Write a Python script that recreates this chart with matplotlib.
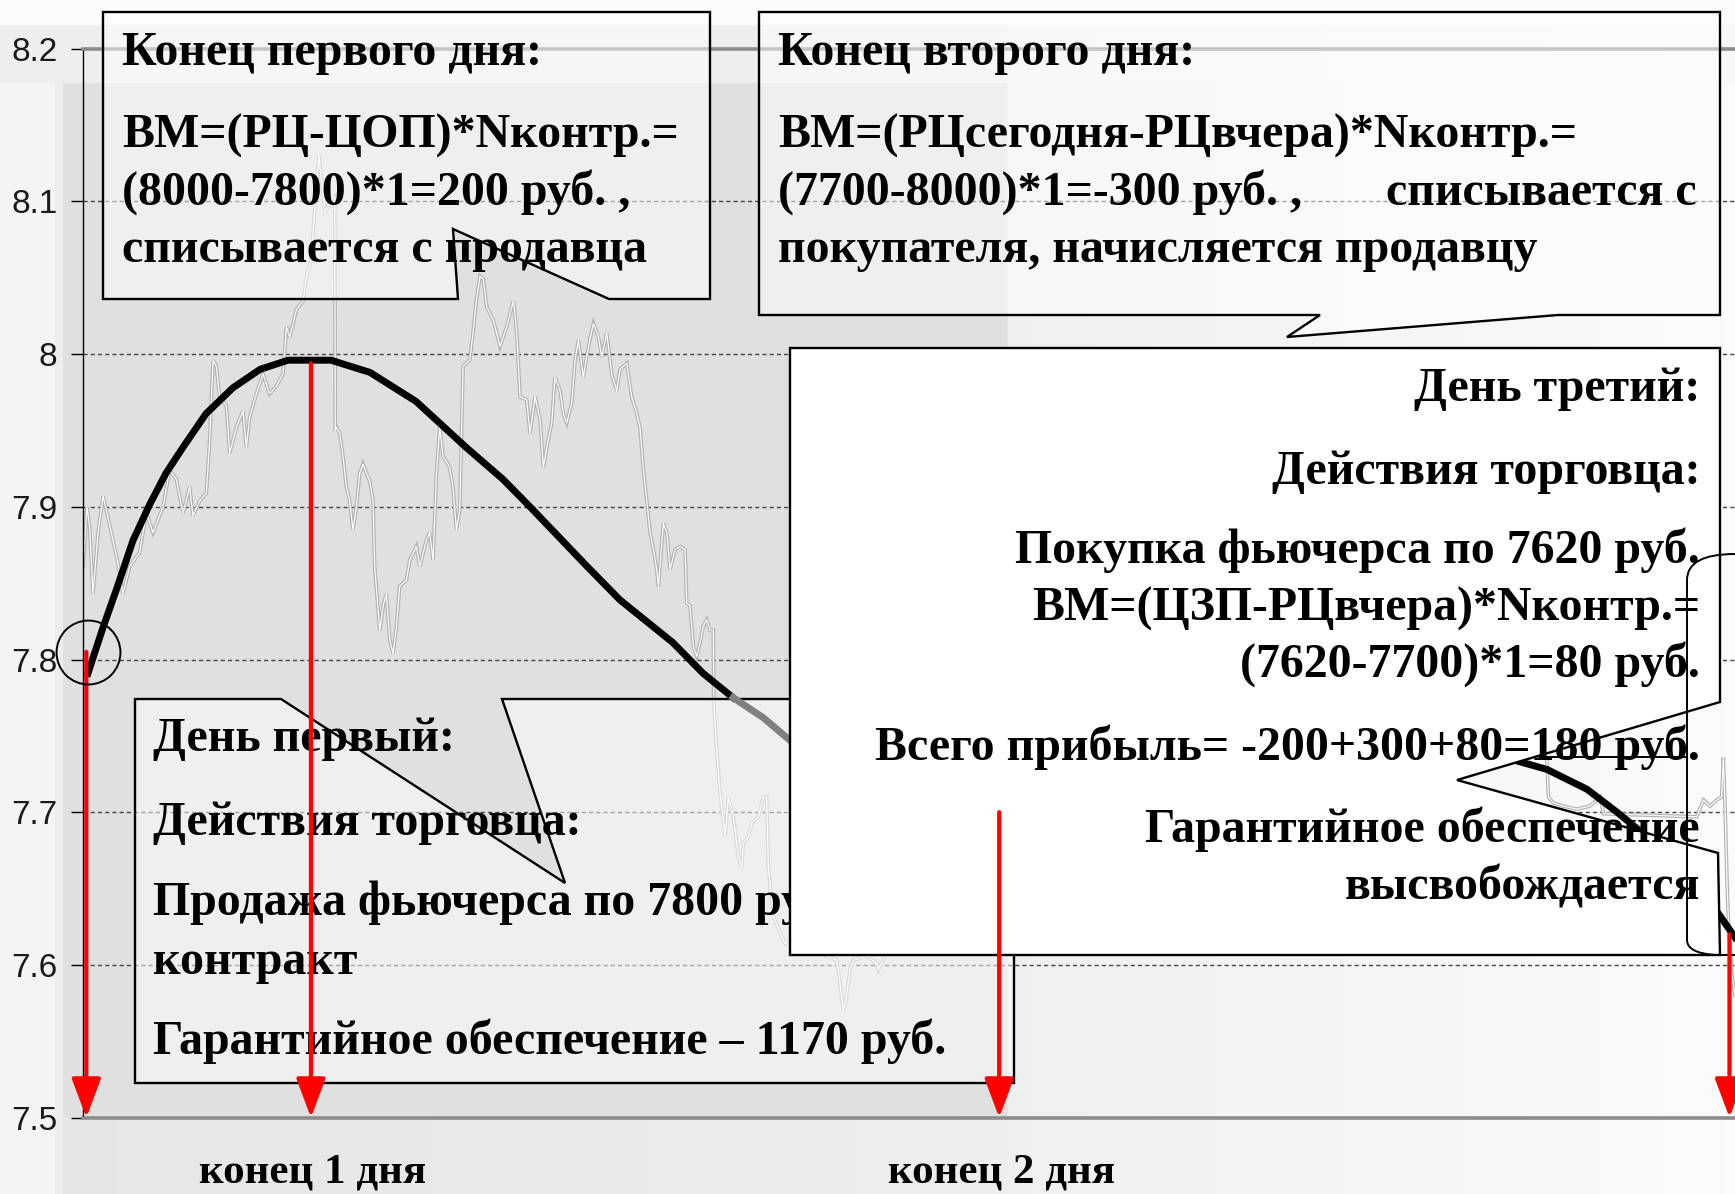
import numpy as np
import matplotlib
matplotlib.use("Agg")
import matplotlib.pyplot as plt
from matplotlib.patches import Polygon, FancyArrowPatch, PathPatch
from matplotlib.path import Path

# ---------------- data ----------------
ytick_vals = [8.2, 8.1, 8.0, 7.9, 7.8, 7.7, 7.6, 7.5]
ytick_labels = ["8.2", "8.1", "8", "7.9", "7.8", "7.7", "7.6", "7.5"]
grid_vals = [8.1, 8.0, 7.9, 7.8, 7.7, 7.6]

# intraday price (faint background series); NaN = hidden gap
price_t = [-0.30, 0.06, 0.30, 0.60, 1.06, 1.51, 1.96, 2.41, 2.86, 3.32, 3.92, 4.82, 5.43, 6.03,
           6.93, 7.53, 8.14, 8.74, 9.34, 9.64, 10.25, 10.85, 11.15, 11.45, 11.75, 12.05, 12.66,
           12.96, 13.56, 14.16, 14.46, 14.77, 15.37, 15.97, 16.57, 17.17, 17.78, 18.08, 18.38,
           18.98, 19.59, 19.90, 20.30, 20.60, 20.90, 21.03, 21.30, 21.60, 22.00, 22.45, 22.50,
           22.60, 22.90, 23.20, 23.50, 23.80, 24.10, 24.41, 24.71, 25.01, 25.31, 25.61, 25.91,
           26.06, 26.52, 26.82, 27.12, 27.42, 27.72, 28.02, 28.32, 28.93, 29.23, 29.83, 30.13,
           30.73, 31.03, 31.34, 31.64, 31.94, 32.24, 32.84, 33.14, 33.45, 33.75, 34.05, 34.65,
           34.95, 35.25, 35.58, 35.88, 36.19, 36.79, 37.39, 37.99, 38.60, 38.90, 39.20, 39.80,
           40.10, 40.55, 41.01, 41.31, 41.61, 42.06, 42.36, 42.81, 43.12, 43.42, 43.87, 44.17,
           44.47, 44.92, 45.38, 45.83, 46.28, 46.58, 47.03, 47.48, 47.94, 48.24, 48.84, 49.29,
           49.74, 50.04, 50.35, 50.65, 50.95, 51.25, 51.55, 51.70, 52.15, 52.46, 52.76, 53.21,
           53.66, 54.11, 54.26, 54.56, 54.87, 55.17, 55.47, 55.77, 56.07, 56.37, 56.67, 56.70,
           56.97, 57.28, 57.73, 58.03, 58.48, 58.93, 59.23, 59.38, 59.84, 60.14, 60.74, 61.19,
           61.49, 61.64, 62.10, 62.70, 63.15, 63.60, 67.82, 68.12, 68.42, 68.73, 69.03, 69.33,
           70.50, 71.44, 71.59, 72.50, np.nan,
           131.99, 132.14, 132.59, 133.49, 134.70, 135.90, 136.81, 137.11, 145.54, 146.15,
           146.75, 147.35, 147.80, 147.95, 148.10, 148.26, 148.41, 148.71, 149.00]
price_v = [7.861, 7.900, 7.887, 7.843, 7.883, 7.907, 7.893, 7.878, 7.863, 7.843, 7.861, 7.870,
           7.896, 7.883, 7.900, 7.924, 7.918, 7.896, 7.913, 7.894, 7.904, 7.909, 7.944, 7.996,
           7.992, 7.972, 7.966, 7.935, 7.952, 7.963, 7.939, 7.959, 7.974, 7.987, 7.974, 7.979,
           7.987, 8.018, 8.011, 8.029, 8.035, 8.050, 8.062, 8.090, 8.120, 8.130, 8.110, 8.092,
           8.100, 8.103, 7.950, 7.952, 7.948, 7.933, 7.913, 7.904, 7.885, 7.900, 7.922, 7.928,
           7.922, 7.917, 7.904, 7.861, 7.819, 7.835, 7.843, 7.813, 7.804, 7.821, 7.848, 7.852,
           7.865, 7.874, 7.861, 7.878, 7.883, 7.865, 7.922, 7.952, 7.933, 7.926, 7.913, 7.885,
           7.898, 7.992, 7.996, 8.014, 8.035, 8.051, 8.049, 8.031, 8.022, 8.005, 8.018, 8.035,
           8.014, 7.972, 7.970, 7.948, 7.972, 7.957, 7.926, 7.939, 7.955, 7.985, 7.976, 7.961,
           7.955, 7.968, 7.996, 8.009, 7.985, 8.005, 8.020, 8.011, 7.998, 8.014, 7.987, 7.976,
           7.990, 7.994, 7.972, 7.961, 7.952, 7.924, 7.904, 7.883, 7.872, 7.859, 7.848, 7.889,
           7.883, 7.859, 7.872, 7.874, 7.872, 7.837, 7.835, 7.808, 7.802, 7.811, 7.822, 7.826,
           7.819, 7.819, 7.773, 7.741, 7.712, 7.684, 7.710, 7.697, 7.671, 7.664, 7.680, 7.684,
           7.693, 7.697, 7.710, 7.710, 7.664, 7.632, 7.621, 7.614, 7.616, 7.603, 7.588, 7.570,
           7.581, 7.597, 7.603, 7.606, 7.601, 7.597, 7.610, np.nan,
           7.734, 7.710, 7.706, 7.704, 7.702, 7.704, 7.710, 7.699, 7.697, 7.708, 7.704, 7.708,
           7.710, 7.736, 7.704, 7.660, 7.627, 7.594, 7.580]

# settlement-price path (thick line)
settle_t = [0.15, 1.51, 2.68, 4.22, 5.76, 7.20, 8.74, 10.82, 13.26, 15.70, 18.23, 22.11, 25.64,
            29.80, 34.31, 37.66, 40.10, 45.25, 48.23, 53.02, 55.73, 58.45]
settle_v = [7.791, 7.821, 7.845, 7.878, 7.902, 7.922, 7.939, 7.961, 7.978, 7.990, 7.996, 7.996,
            7.988, 7.969, 7.939, 7.918, 7.900, 7.861, 7.839, 7.811, 7.791, 7.775]
settle_gray_t = [58.45, 61.16, 63.60, 66.0]
settle_gray_v = [7.775, 7.762, 7.747, 7.740]
settle_day3_t = [129.57, 132.01, 135.63, 138.34, 140.69, 147.46, 149.00]
settle_day3_v = [7.733, 7.728, 7.715, 7.700, 7.686, 7.634, 7.618]

# day boundaries (red arrows) and entry point
arrow_t = [0.0, 20.3, 82.5, 148.5]
arrow_top = [7.805, 7.994, 7.700, 7.620]
entry_t = [0.15]
entry_v = [7.805]

# texts
box1_lines = ["Конец первого дня:", "ВМ=(РЦ-ЦОП)*Nконтр.=", "(8000-7800)*1=200 руб. ,",
              "списывается с продавца"]
box2_lines = ["Конец второго дня:", "ВМ=(РЦсегодня-РЦвчера)*Nконтр.=",
              "(7700-8000)*1=-300 руб. ,", "покупателя, начисляется продавцу"]
box2_right = "списывается с"
box3_lines = ["День первый:", "Действия торговца:", "Продажа фьючерса по 7800 руб. за 1",
              "контракт", "Гарантийное обеспечение – 1170 руб."]
box4_lines = ["День третий:", "Действия торговца:", "Покупка фьючерса по 7620 руб.",
              "ВМ=(ЦЗП-РЦвчера)*Nконтр.=", "(7620-7700)*1=80 руб.",
              "Всего прибыль= -200+300+80=180 руб.", "Гарантийное обеспечение",
              "высвобождается"]
bottom_labels = ["конец 1 дня", "конец 2 дня"]

# ---------------- figure ----------------
W, H = 1735, 1194
fig = plt.figure(figsize=(W / 100, H / 100), dpi=100)

def fp(x, y):
    return (x / W, 1 - y / H)

# background
bg = np.full((H, W), 0.965)
bg[:25, :] = 0.985
bg[25:83, :1007] = 0.935
bg[25:83, 1007:] = np.linspace(0.95, 0.975, W - 1007)[None, :]
bg[83:, :55] = 0.96
bg[83:, 55:63] = 0.93
bg[83:, 63:1007] = 0.88
bg[1117:, 63:1007] = np.linspace(0.90, 0.935, 1007 - 63)[None, :]
bg[83:, 1007:] = np.linspace(0.94, 0.985, W - 1007)[None, :]
bax = fig.add_axes([0, 0, 1, 1], zorder=-10)
bax.imshow(np.dstack([bg, bg, bg]), aspect="auto", interpolation="bilinear")
bax.set_axis_off()

ax = fig.add_axes([83 / W, 1 - 1117.6 / H, (W - 83) / W, (1117.6 - 48.7) / H])
ax.set_facecolor("none")
ax.set_xlim(-0.30, 149.0)
ax.set_ylim(7.5, 8.2)

ax.spines["right"].set_visible(False)
ax.spines["top"].set_color("#8c8c8c")
ax.spines["top"].set_linewidth(2.6)
ax.spines["bottom"].set_color("#8c8c8c")
ax.spines["bottom"].set_linewidth(2.6)
ax.spines["left"].set_color("black")
ax.spines["left"].set_linewidth(1.0)
ax.set_xticks([])
ax.set_yticks(ytick_vals)
ax.set_yticklabels(ytick_labels, fontsize=24, color="#1a1a1a",
                   family=["Liberation Sans Narrow", "Liberation Sans"])
ax.tick_params(axis="y", length=8.5, width=1.0, color="black", pad=10)

for g in grid_vals:
    ax.axhline(g, color="#454545", lw=1.0, ls=(0, (3.0, 2.2)), zorder=1)

# faint price series
ax.plot(price_t, price_v, color="#b2b2b2", lw=2.6, zorder=2, solid_joinstyle="miter")
ax.plot(price_t, price_v, color="#fbfbfb", lw=0.9, zorder=2.1)

serif = "Liberation Serif"
FS = 34.5

def box(pts, zorder, alpha=0.5):
    poly = Polygon([fp(*p) for p in pts], closed=True, transform=fig.transFigure,
                   facecolor=(1, 1, 1, alpha), edgecolor="black", lw=1.7, zorder=zorder,
                   clip_on=False)
    ax.add_patch(poly)

def txt(x, y, s, zorder, ha="left", fs=FS):
    ax.text(*fp(x, y), s, transform=fig.transFigure, ha=ha, va="baseline", fontsize=fs,
            fontweight="bold", family=serif, color="black", zorder=zorder, clip_on=False)

# box 1
box([(103, 12), (710, 12), (710, 299), (609, 299), (453, 229), (458, 299), (103, 299)], 3)
for s, y in zip(box1_lines, [65, 148, 205, 262]):
    txt(122, y, s, 4)
# box 2
box([(759, 12), (1720, 12), (1720, 315), (1558, 315), (1287, 337), (1320, 315), (759, 315)], 3)
for s, y in zip(box2_lines, [65, 148, 205, 262]):
    txt(778, y, s, 4)
txt(1697, 205, box2_right, 4, ha="right")
# box 3
box([(135, 699), (281, 699), (565, 883), (502, 699), (1014, 699), (1014, 1083), (135, 1083)], 3)
for s, y in zip(box3_lines, [751, 835, 915, 974, 1054]):
    txt(153, y, s, 4)

# settlement path
lw_c = 5.0
ax.plot(settle_t, settle_v, color="black", lw=lw_c, zorder=5, solid_joinstyle="round")
ax.plot(settle_gray_t, settle_gray_v, color="#808080", lw=lw_c, zorder=5,
        solid_joinstyle="round")
ax.plot(settle_day3_t, settle_day3_v, color="black", lw=lw_c, zorder=5,
        solid_joinstyle="round")

# box 4 (opaque)
box([(790, 348), (1720, 348), (1720, 702), (1457, 780), (1718, 853), (1720, 955), (790, 955)],
    6, alpha=1.0)
for s, y in zip(box4_lines, [401, 484, 563, 621, 677, 760, 842, 900]):
    txt(1700, y, s, 7, ha="right")

# partial shape at right edge
codes = [Path.MOVETO, Path.CURVE3, Path.CURVE3, Path.LINETO, Path.CURVE3, Path.CURVE3,
         Path.LINETO]
verts = [fp(1735, 554), fp(1687, 554), fp(1687, 580), fp(1687, 940), fp(1687, 953),
         fp(1715, 955), fp(1740, 955)]
ax.add_patch(PathPatch(Path(verts, codes), transform=fig.transFigure, facecolor="none",
                       edgecolor="black", lw=1.4, zorder=7.5, clip_on=False))
ax.plot(*zip(fp(1540, 757), fp(1687, 757)), transform=fig.transFigure, color="black", lw=1.4,
        zorder=7.5, clip_on=False)

# red arrows
for t, top in zip(arrow_t, arrow_top):
    a = FancyArrowPatch((t, top), (t, 7.5), arrowstyle="-|>,head_length=2.4,head_width=0.9",
                        mutation_scale=10, color="#ff0000", lw=3.0, shrinkA=0, shrinkB=0,
                        zorder=8, clip_on=False)
    ax.add_patch(a)

# entry circle
ax.plot(entry_t, entry_v, "o", ms=46, mfc="none", mec="black", mew=1.4, zorder=9,
        clip_on=False)

# bottom labels
for s, x in zip(bottom_labels, [313, 1001]):
    fig.text(*fp(x, 1183), s, ha="center", va="baseline", fontsize=31, fontweight="bold",
             family=serif, color="black")

fig.savefig("out.png", dpi=100)
